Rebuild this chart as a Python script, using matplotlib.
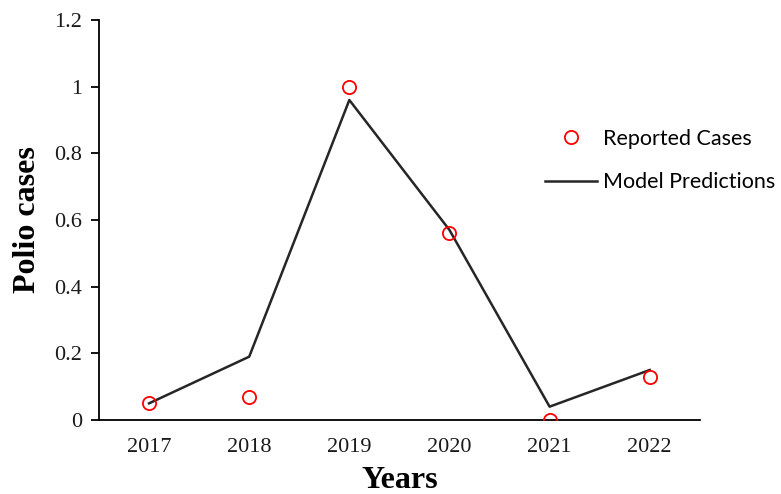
import matplotlib
matplotlib.use("Agg")
import matplotlib.pyplot as plt
import numpy as np

years = ["2017", "2018", "2019", "2020", "2021", "2022"]
reported = [0.05, 0.07, 1.0, 0.56, 0.0, 0.13]
predicted = [0.05, 0.19, 0.96, 0.57, 0.04, 0.15]
y_ticks = [0, 0.2, 0.4, 0.6, 0.8, 1, 1.2]
y_tick_labels = ["0", "0.2", "0.4", "0.6", "0.8", "1", "1.2"]

fig = plt.figure(figsize=(7.81, 4.94), dpi=100)
ax = fig.add_axes([0.1268, 0.1498, 0.7692, 0.8097])

x = np.arange(len(years)) + 0.5
ax.plot(x, predicted, color="#262626", lw=1.8, label="Model Predictions", zorder=2)
ax.plot(x, reported, linestyle="none", marker="o", ms=9.5, mfc="none",
        mec="#ff0000", mew=1.3, label="Reported Cases", zorder=3)

ax.set_xlim(0, len(years))
ax.set_ylim(0, 1.2)
ax.set_xticks(x)
ax.set_xticklabels(years)
ax.set_yticks(y_ticks)
ax.set_yticklabels(y_tick_labels)

for lab in ax.get_xticklabels() + ax.get_yticklabels():
    lab.set_fontfamily("Liberation Serif")
    lab.set_fontsize(16)
    lab.set_color("#1a1a1a")

ax.tick_params(axis="x", length=0, pad=13)
ax.tick_params(axis="y", length=6, width=1.3, direction="out", pad=6)

for s in ("top", "right"):
    ax.spines[s].set_visible(False)
for s in ("left", "bottom"):
    ax.spines[s].set_linewidth(1.3)
    ax.spines[s].set_color("black")

ax.set_xlabel("Years", fontfamily="Liberation Serif", fontweight="bold",
              fontsize=23, labelpad=6.5)
ax.set_ylabel("Polio cases", fontfamily="Liberation Serif", fontweight="bold",
              fontsize=23, labelpad=9)

handles, labels = ax.get_legend_handles_labels()
leg = fig.legend(handles[::-1], labels[::-1], loc="center left",
                 bbox_to_anchor=(0.673, 0.675), frameon=False,
                 prop={"family": "Lato", "size": 15.5}, handlelength=2.4,
                 handletextpad=0.28, labelspacing=1.1)

fig.savefig("out.png", dpi=100)
